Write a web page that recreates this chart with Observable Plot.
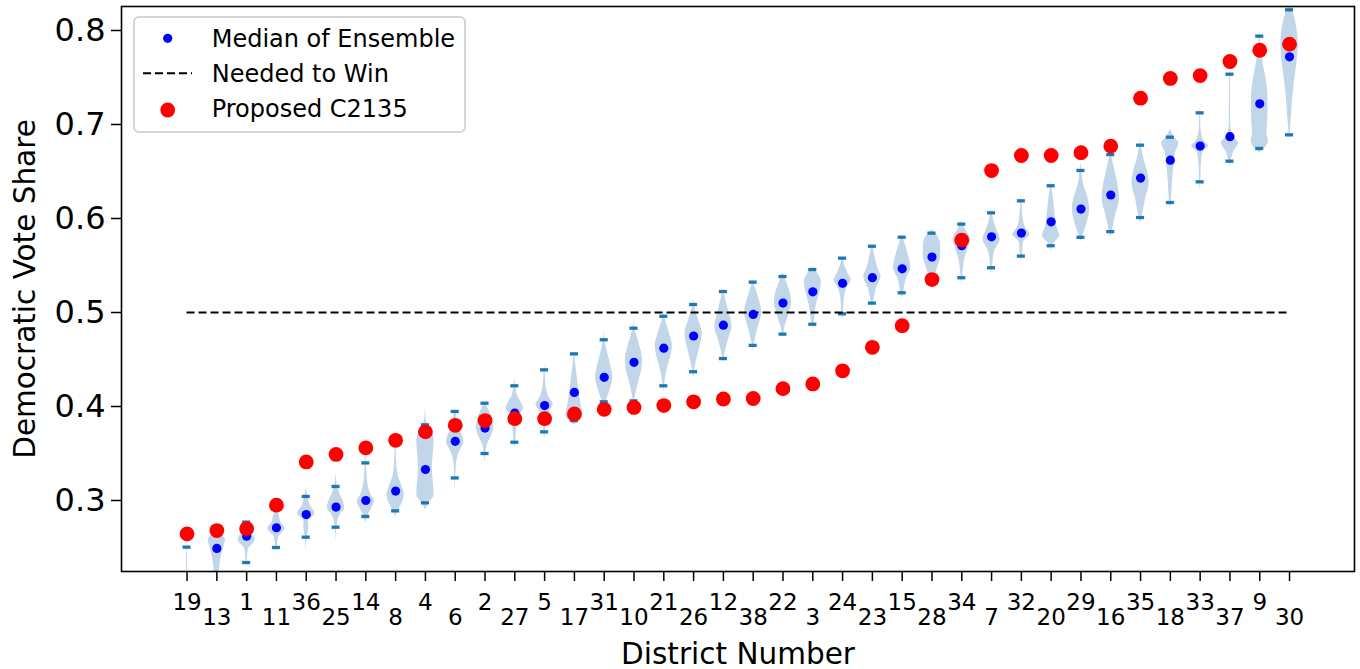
<!DOCTYPE html>
<html><head><meta charset="utf-8">
<script src="https://cdn.jsdelivr.net/npm/d3@7"></script>
<script src="https://cdn.jsdelivr.net/npm/@observablehq/plot@0.6"></script>
<style>
body{margin:0;background:#fff;}
#chart{position:relative;width:1360px;height:669px;}
</style></head><body><div id="chart"></div>
<script>
// ---- data ----
const districts = [19,13,1,11,36,25,14,8,4,6,2,27,5,17,31,10,21,26,12,38,22,3,24,23,15,28,34,7,32,20,29,16,35,18,33,37,9,30];
const medianShare = [0.205,0.249,0.262,0.271,0.285,0.293,0.300,0.310,0.333,0.363,0.377,0.393,0.401,0.415,0.431,0.447,0.462,0.475,0.4865,0.498,0.510,0.522,0.531,0.537,0.5465,0.559,0.571,0.5805,0.5845,0.5965,0.610,0.625,0.643,0.662,0.677,0.687,0.722,0.772];
const proposedShare = [0.2645,0.268,0.270,0.295,0.341,0.349,0.356,0.364,0.373,0.380,0.385,0.387,0.387,0.392,0.397,0.399,0.401,0.405,0.408,0.4085,0.419,0.424,0.438,0.463,0.486,0.535,0.577,0.651,0.667,0.667,0.670,0.677,0.728,0.749,0.752,0.767,0.779,0.7855];
const ensembleMin = [0.18,0.19,0.234,0.250,0.261,0.2716,0.283,0.289,0.2975,0.324,0.350,0.362,0.373,0.385,0.405,0.406,0.422,0.437,0.451,0.465,0.477,0.4875,0.4986,0.510,0.521,0.532,0.537,0.5476,0.560,0.571,0.580,0.586,0.601,0.617,0.639,0.661,0.6745,0.689];
const ensembleMax = [0.2504,0.266,0.277,0.293,0.3043,0.3149,0.340,0.360,0.3805,0.3947,0.4035,0.422,0.439,0.456,0.471,0.4833,0.496,0.5085,0.5223,0.5323,0.5383,0.5457,0.5578,0.5705,0.5801,0.5844,0.594,0.606,0.6188,0.6348,0.6511,0.668,0.678,0.6865,0.7124,0.7535,0.794,0.822];
// violin outlines: [vote share, relative half-width]
const violinKnots = [
 [[0.15,0.5],[0.19,0.4],[0.215,0.1],[0.24,0.05],[0.26,0.02],[0.27,0]],
 [[0.17,0.05],[0.2,0.2],[0.225,0.3],[0.24,0.5],[0.252,0.85],[0.258,1],[0.263,0.6],[0.267,0]],
 [[0.228,0],[0.236,0.08],[0.248,0.2],[0.258,1],[0.264,0.7],[0.27,0.3],[0.28,0]],
 [[0.245,0],[0.252,0.1],[0.262,0.3],[0.27,1],[0.276,0.55],[0.285,0.3],[0.295,0.1],[0.305,0]],
 [[0.245,0],[0.26,0.1],[0.272,0.3],[0.278,0.25],[0.286,1],[0.295,0.45],[0.305,0.15],[0.315,0]],
 [[0.255,0],[0.272,0.1],[0.285,0.5],[0.292,1],[0.3,0.8],[0.308,0.4],[0.318,0.1],[0.33,0]],
 [[0.275,0],[0.283,0.2],[0.292,0.7],[0.299,1],[0.306,0.6],[0.315,0.3],[0.33,0.12],[0.345,0.05],[0.355,0]],
 [[0.282,0],[0.29,0.3],[0.298,0.8],[0.306,1],[0.316,0.7],[0.328,0.25],[0.345,0.1],[0.36,0.05],[0.37,0]],
 [[0.29,0],[0.298,0.45],[0.305,1],[0.315,0.95],[0.335,0.8],[0.355,0.95],[0.365,1],[0.375,0.6],[0.385,0.1],[0.4,0]],
 [[0.31,0],[0.325,0.06],[0.34,0.15],[0.352,0.5],[0.362,1],[0.37,0.8],[0.378,0.4],[0.39,0.15],[0.4,0]],
 [[0.34,0],[0.35,0.1],[0.36,0.3],[0.37,0.8],[0.378,1],[0.388,0.8],[0.397,0.4],[0.405,0]],
 [[0.355,0],[0.365,0.12],[0.38,0.25],[0.39,0.5],[0.398,1],[0.405,0.7],[0.412,0.3],[0.42,0.12],[0.43,0]],
 [[0.365,0],[0.373,0.08],[0.385,0.2],[0.395,0.6],[0.402,1],[0.41,0.5],[0.42,0.2],[0.435,0.07],[0.445,0]],
 [[0.38,0],[0.385,0.6],[0.39,1],[0.4,0.8],[0.415,0.55],[0.43,0.35],[0.445,0.15],[0.46,0]],
 [[0.4,0],[0.41,0.4],[0.42,0.75],[0.43,1],[0.44,0.85],[0.455,0.45],[0.47,0.1],[0.48,0]],
 [[0.4,0],[0.41,0.15],[0.425,0.5],[0.44,0.9],[0.45,1],[0.46,0.8],[0.475,0.35],[0.485,0.05],[0.495,0]],
 [[0.415,0],[0.425,0.12],[0.44,0.4],[0.455,0.85],[0.465,1],[0.475,0.75],[0.49,0.25],[0.5,0]],
 [[0.43,0],[0.44,0.15],[0.455,0.5],[0.47,0.9],[0.478,1],[0.49,0.65],[0.505,0.15],[0.515,0]],
 [[0.445,0],[0.455,0.15],[0.47,0.55],[0.485,1],[0.5,0.65],[0.515,0.25],[0.525,0]],
 [[0.46,0],[0.47,0.2],[0.485,0.6],[0.5,1],[0.515,0.65],[0.528,0.2],[0.535,0]],
 [[0.473,0],[0.485,0.25],[0.5,0.75],[0.51,1],[0.522,0.8],[0.535,0.3],[0.542,0]],
 [[0.483,0],[0.49,0.15],[0.505,0.35],[0.52,0.75],[0.532,1],[0.54,0.7],[0.548,0]],
 [[0.49,0],[0.5,0.1],[0.515,0.2],[0.528,0.6],[0.534,1],[0.542,0.6],[0.55,0.25],[0.56,0]],
 [[0.505,0],[0.512,0.15],[0.525,0.45],[0.538,1],[0.548,0.6],[0.56,0.3],[0.572,0]],
 [[0.515,0],[0.523,0.2],[0.535,0.45],[0.548,1],[0.558,0.8],[0.57,0.45],[0.582,0]],
 [[0.525,0],[0.535,0.25],[0.548,0.65],[0.56,1],[0.572,1],[0.582,0.6],[0.588,0]],
 [[0.53,0],[0.54,0.12],[0.555,0.3],[0.568,0.7],[0.578,1],[0.588,0.45],[0.597,0]],
 [[0.54,0],[0.55,0.12],[0.565,0.35],[0.578,1],[0.588,0.6],[0.6,0.2],[0.61,0]],
 [[0.555,0],[0.562,0.12],[0.575,0.25],[0.583,1],[0.59,0.5],[0.6,0.2],[0.615,0.08],[0.625,0]],
 [[0.565,0],[0.572,0.2],[0.582,1],[0.59,0.7],[0.6,0.5],[0.615,0.35],[0.63,0.12],[0.64,0]],
 [[0.575,0],[0.583,0.25],[0.595,0.7],[0.61,1],[0.622,0.8],[0.635,0.35],[0.65,0.1],[0.66,0]],
 [[0.58,0],[0.59,0.25],[0.605,0.6],[0.62,1],[0.635,0.85],[0.65,0.5],[0.665,0.15],[0.672,0]],
 [[0.595,0],[0.605,0.25],[0.62,0.55],[0.638,1],[0.65,0.8],[0.665,0.35],[0.68,0.05],[0.69,0]],
 [[0.61,0],[0.62,0.12],[0.64,0.25],[0.655,0.4],[0.67,0.6],[0.68,1],[0.686,0.5],[0.695,0]],
 [[0.63,0],[0.64,0.08],[0.655,0.12],[0.67,0.3],[0.677,1],[0.682,0.5],[0.695,0.1],[0.71,0.05],[0.72,0]],
 [[0.655,0],[0.662,0.15],[0.672,0.5],[0.68,1],[0.687,0.45],[0.7,0.08],[0.75,0.05],[0.76,0]],
 [[0.67,0],[0.675,0.6],[0.682,1],[0.69,0.85],[0.71,0.95],[0.73,0.95],[0.75,0.7],[0.77,0.3],[0.79,0.08],[0.8,0]],
 [[0.685,0],[0.695,0.1],[0.72,0.3],[0.745,0.55],[0.765,0.85],[0.785,1],[0.805,0.8],[0.82,0.4],[0.83,0]]
];
const yTicks = [0.3,0.4,0.5,0.6,0.7,0.8];
const neededToWin = 0.5;
const legendLabels = ["Median of Ensemble","Needed to Win","Proposed C2135"];
const xTitle = "District Number";
const yTitle = "Democratic Vote Share";

// ---- derived tables ----
const positions = districts.map((d,i)=>i+1);
const rows = districts.map((d,i)=>({district:d,pos:i+1,median:medianShare[i],proposed:proposedShare[i],lo:ensembleMin[i],hi:ensembleMax[i]}));
const violinRows = violinKnots.flatMap((knots,i)=>knots.map(([v,w])=>({pos:i+1,v,w})));
const HW = 0.29, TW = 0.135;
const upper = positions.filter((p,i)=>i%2===0);
const lower = positions.filter((p,i)=>i%2===1);
const font = "DejaVu Sans";

const chart = Plot.plot({
  width:1360, height:669,
  marginTop:6, marginBottom:98, marginLeft:121, marginRight:6,
  style:{fontFamily:font, fontSize:"21px", color:"#000", background:"#fff"},
  x:{type:"linear", domain:[-1.2,40.18]},
  y:{domain:[0.22447,0.82553]},
  marks:[
    Plot.areaX(violinRows,{y:"v", x1:d=>d.pos-d.w*HW, x2:d=>d.pos+d.w*HW, z:"pos", fill:"#c2d6ea", curve:"monotone-y", clip:true}),
    Plot.ruleY(rows,{y:"lo", x1:d=>d.pos-TW, x2:d=>d.pos+TW, stroke:"#1f77b4", strokeWidth:3.3, clip:true}),
    Plot.ruleY(rows,{y:"hi", x1:d=>d.pos-TW, x2:d=>d.pos+TW, stroke:"#1f77b4", strokeWidth:3.3, clip:true}),
    Plot.ruleY([neededToWin],{x1:positions[0], x2:positions[positions.length-1], stroke:"#000", strokeWidth:2, strokeDasharray:"8,4"}),
    Plot.dot(rows,{x:"pos", y:"median", r:4.6, fill:"#0000ff", clip:true}),
    Plot.dot(rows,{x:"pos", y:"proposed", r:7.4, fill:"#ff0000", clip:true}),
    Plot.frame({stroke:"#000", strokeWidth:1.6}),
    Plot.axisY(yTicks,{tickSize:10, tickPadding:6, fontSize:32, tickFormat:d=>d.toFixed(1), label:null, strokeWidth:1.5}),
    Plot.axisX(upper,{tickSize:10, tickPadding:12, fontSize:23, tickFormat:p=>String(districts[p-1]), label:null, strokeWidth:1.5}),
    Plot.axisX(lower,{tickSize:10, tickPadding:27, fontSize:23, tickFormat:p=>String(districts[p-1]), label:null, strokeWidth:1.5}),
    Plot.text([xTitle],{text:d=>d, frameAnchor:"bottom", textAnchor:"middle", dy:92, lineAnchor:"bottom", fontSize:29.5}),
    Plot.text([yTitle],{text:d=>d, frameAnchor:"left", textAnchor:"middle", dx:-87, rotate:-90, lineAnchor:"bottom", fontSize:29.5})
  ]
});
document.getElementById("chart").appendChild(chart);

// ---- legend (inside the axes, upper left) ----
const svg = d3.select(chart);
const lg = svg.append("g").attr("font-family", font).attr("font-size", 24).attr("text-anchor","start");
lg.append("rect").attr("x",134).attr("y",17).attr("width",331).attr("height",115).attr("rx",5)
  .attr("fill","#fff").attr("fill-opacity",0.8).attr("stroke","#d6d6d6").attr("stroke-width",2);
lg.append("circle").attr("cx",167.7).attr("cy",38.3).attr("r",4.6).attr("fill","#0000ff");
lg.append("line").attr("x1",143).attr("x2",192).attr("y1",73.3).attr("y2",73.3)
  .attr("stroke","#000").attr("stroke-width",2).attr("stroke-dasharray","8,4");
lg.append("circle").attr("cx",167.7).attr("cy",110).attr("r",7.4).attr("fill","#ff0000");
const baselines = [46.7, 81.7, 116.5];
legendLabels.forEach((t,i)=>{
  lg.append("text").attr("x",211.7).attr("y",baselines[i]).attr("fill","#000").attr("text-anchor","start").text(t);
});
</script></body></html>
